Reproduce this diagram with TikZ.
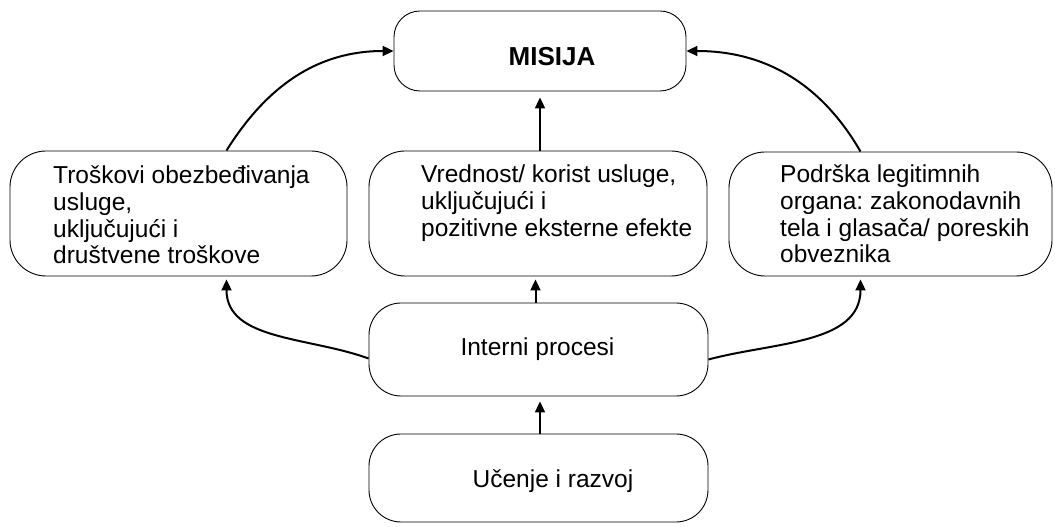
\documentclass[tikz,border=0pt]{standalone}
\usepackage{fontspec}
\setmainfont{Liberation Sans}
\usetikzlibrary{arrows.meta}
\frenchspacing
\begin{document}
\begin{tikzpicture}[x=1pt,y=1pt,
  box/.style={draw=black,line width=0.9pt,rounded corners=#1,inner sep=0pt},
  box/.default=36pt,
  txt/.style={inner sep=0pt,align=left,font=\fontsize{24.5}{26.6}\selectfont},
  arr/.style={line width=2pt,-{Triangle[length=11pt,width=10pt]}}]
\useasboundingbox (0,0) rectangle (1055,527);
% boxes
\node[box=26pt,minimum width=292pt,minimum height=80pt] (mis) at (540,476) {};
\node[box,minimum width=337pt,minimum height=125pt] (cost) at (178.5,313.5) {};
\node[box,minimum width=338pt,minimum height=125pt] (val) at (538,313.5) {};
\node[box,minimum width=323pt,minimum height=124pt] (sup) at (890.5,313) {};
\node[box=32pt,minimum width=339pt,minimum height=93pt] (int) at (538.5,177.5) {};
\node[box=32pt,minimum width=339pt,minimum height=88pt] (ucen) at (538.5,49) {};
% texts (base anchor = baseline of the last line)
\node[inner sep=0pt,font=\fontsize{26}{28}\selectfont\bfseries] (tmis) at (552,470) {MISIJA};
\node[txt,anchor=base west] (tcost) at (53,263.2) {Troškovi obezbeđivanja\\usluge,\\uključujući i\\društvene troškove};
\node[txt,anchor=base west] (tval) at (421,290.8) {Vrednost/ korist usluge,\\uključujući i\\pozitivne eksterne efekte};
\node[txt,anchor=base west] (tsup) at (780,264.2) {Podrška legitimnih\\organa: zakonodavnih\\tela i glasača/ poreskih\\obveznika};
\node[txt,anchor=base] (tint) at (537.5,171) {Interni procesi};
\node[txt,anchor=base] (tucen) at (553,39) {Učenje i razvoj};
% connectors
\draw[arr,shorten >=6pt] ([xshift=2pt]val.north) -- ([xshift=2pt]val.north |- mis.south);
\draw[arr,shorten >=3pt] ([xshift=-3pt]int.north) -- ([xshift=-3pt]int.north |- val.south);
\draw[arr,shorten >=5pt] ([xshift=1.5pt]ucen.north) -- ([xshift=1.5pt]ucen.north |- int.south);
\draw[arr] ([xshift=48pt]cost.north) to[out=58,in=180] (mis.west);
\draw[arr] ([xshift=-30pt]sup.north) to[out=120,in=0] (mis.east);
\draw[arr,shorten >=3pt] ([yshift=-9pt]int.west) to[out=160,in=-90] ([xshift=48pt]cost.south);
\draw[arr,shorten >=3pt] ([yshift=-10pt]int.east) to[out=15,in=-90] ([xshift=-30pt]sup.south);
\end{tikzpicture}
\end{document}
